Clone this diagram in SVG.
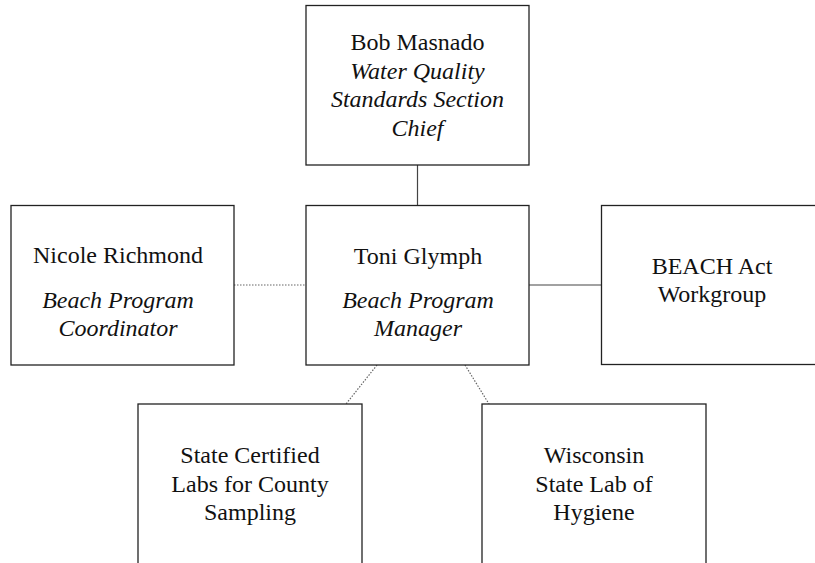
<svg xmlns="http://www.w3.org/2000/svg" width="815" height="563" viewBox="0 0 815 563">
<style>
.box{fill:#fff;stroke:#222;stroke-width:1.3}
.t{font-family:"Liberation Serif","Times New Roman",serif;font-size:24px;fill:#111;text-anchor:middle}
.i{font-style:italic}
.solid{stroke:#444;stroke-width:1.2;fill:none}
.dot{stroke:#666;stroke-width:1.2;fill:none;stroke-dasharray:1.5 1.5}
</style>
<rect width="815" height="563" fill="#fff"/>
<g id="connectors">
<line class="solid" x1="417.5" y1="165" x2="417.5" y2="205"/>
<line class="dot" x1="234" y1="285" x2="306" y2="285"/>
<line class="solid" x1="529" y1="285" x2="601" y2="285"/>
<line class="dot" x1="377" y1="365" x2="346" y2="404"/>
<line class="dot" x1="465" y1="365" x2="489" y2="404"/>
</g>
<g id="bob">
<rect class="box" x="306" y="5.5" width="223" height="159.5"/>
<text class="t" x="417.5" y="50">Bob Masnado</text>
<text class="t i" x="417.5" y="78.5">Water Quality</text>
<text class="t i" x="417.5" y="107">Standards Section</text>
<text class="t i" x="417.5" y="135.5">Chief</text>
</g>
<g id="toni">
<rect class="box" x="306" y="205.5" width="223" height="159.5"/>
<text class="t" x="418" y="264">Toni Glymph</text>
<text class="t i" x="418" y="308">Beach Program</text>
<text class="t i" x="418" y="336">Manager</text>
</g>
<g id="nicole">
<rect class="box" x="11" y="205.5" width="223" height="159.5"/>
<text class="t" x="118" y="263">Nicole Richmond</text>
<text class="t i" x="118" y="308">Beach Program</text>
<text class="t i" x="118" y="336">Coordinator</text>
</g>
<g id="beach">
<rect class="box" x="601.5" y="205.5" width="224" height="159"/>
<text class="t" x="712" y="274">BEACH Act</text>
<text class="t" x="712" y="302">Workgroup</text>
</g>
<g id="labs">
<rect class="box" x="138" y="404" width="224" height="170"/>
<text class="t" x="250" y="463">State Certified</text>
<text class="t" x="250" y="492">Labs for County</text>
<text class="t" x="250" y="520">Sampling</text>
</g>
<g id="wslh">
<rect class="box" x="482" y="404" width="224" height="170"/>
<text class="t" x="594" y="463">Wisconsin</text>
<text class="t" x="594" y="492">State Lab of</text>
<text class="t" x="594" y="520">Hygiene</text>
</g>
</svg>
